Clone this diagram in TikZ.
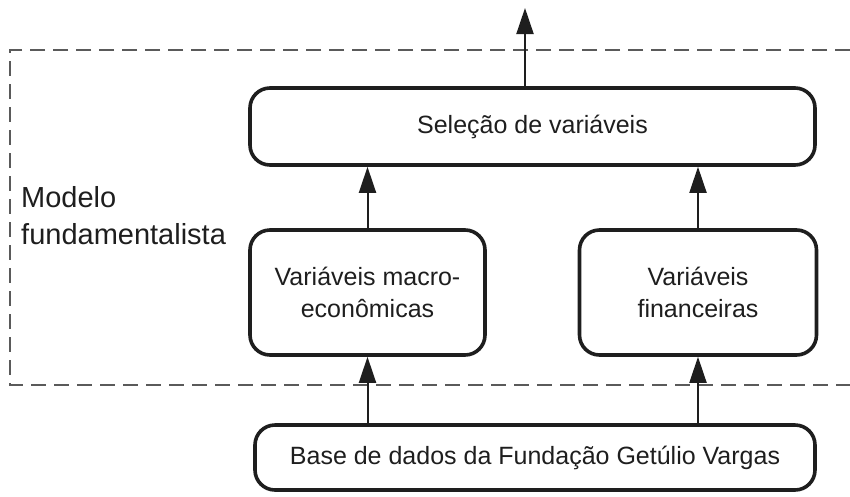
\documentclass[tikz,border=0pt]{standalone}
\usepackage{fontspec}
\setmainfont{Liberation Sans}
\usetikzlibrary{arrows.meta}
\definecolor{ink}{HTML}{1E1E1E}
\definecolor{dashgray}{HTML}{5A5A5A}
\tikzset{
  box/.style={draw=ink, line width=3.6pt, rounded corners=20pt, align=center,
    text=ink, font=\fontsize{25}{32}\selectfont, inner sep=0pt},
  arr/.style={draw=ink, line width=2pt, -{Triangle[length=26pt,width=17pt]}},
  frame/.style={draw=dashgray, line width=1.8pt, dash pattern=on 15pt off 8pt},
  modellabel/.style={anchor=north west, align=left, inner sep=0pt, text=ink,
    font=\fontsize{29}{37}\selectfont}
}
\begin{document}
\begin{tikzpicture}[x=1pt,y=-1pt]
\useasboundingbox (0,0) rectangle (850,496);
% dashed frame (open on the right)
\coordinate (fTR) at (850,50);
\coordinate (fTL) at (10,50);
\coordinate (fBL) at (10,385);
\coordinate (fBR) at (850,385);
\draw[frame] (fTR) -- (fTL) -- (fBL) -- (fBR);
% nodes
\node[box, minimum width=565pt, minimum height=77pt] (sel) at (532.5,126.5) {Seleção de variáveis};
\node[box, minimum width=235pt, minimum height=125pt] (mac) at (367.5,292.5) {Variáveis macro-\\econômicas};
\node[box, minimum width=237pt, minimum height=125pt] (fin) at (698,292.5) {Variáveis\\financeiras};
\node[box, minimum width=560pt, minimum height=65pt] (base) at (535,457.5) {Base de dados da Fundação Getúlio Vargas};
\node[modellabel] (lab) at (21,186) {Modelo\\fundamentalista};
% output arrow
\coordinate (out) at (525,8);
\draw[arr] (sel.north -| out) -- (out);
% arrows
\draw[arr] (mac.north) -- (mac.north |- sel.south);
\draw[arr] (fin.north) -- (fin.north |- sel.south);
\draw[arr] (base.north -| mac.south) -- (mac.south);
\draw[arr] (base.north -| fin.south) -- (fin.south);
\end{tikzpicture}
\end{document}
